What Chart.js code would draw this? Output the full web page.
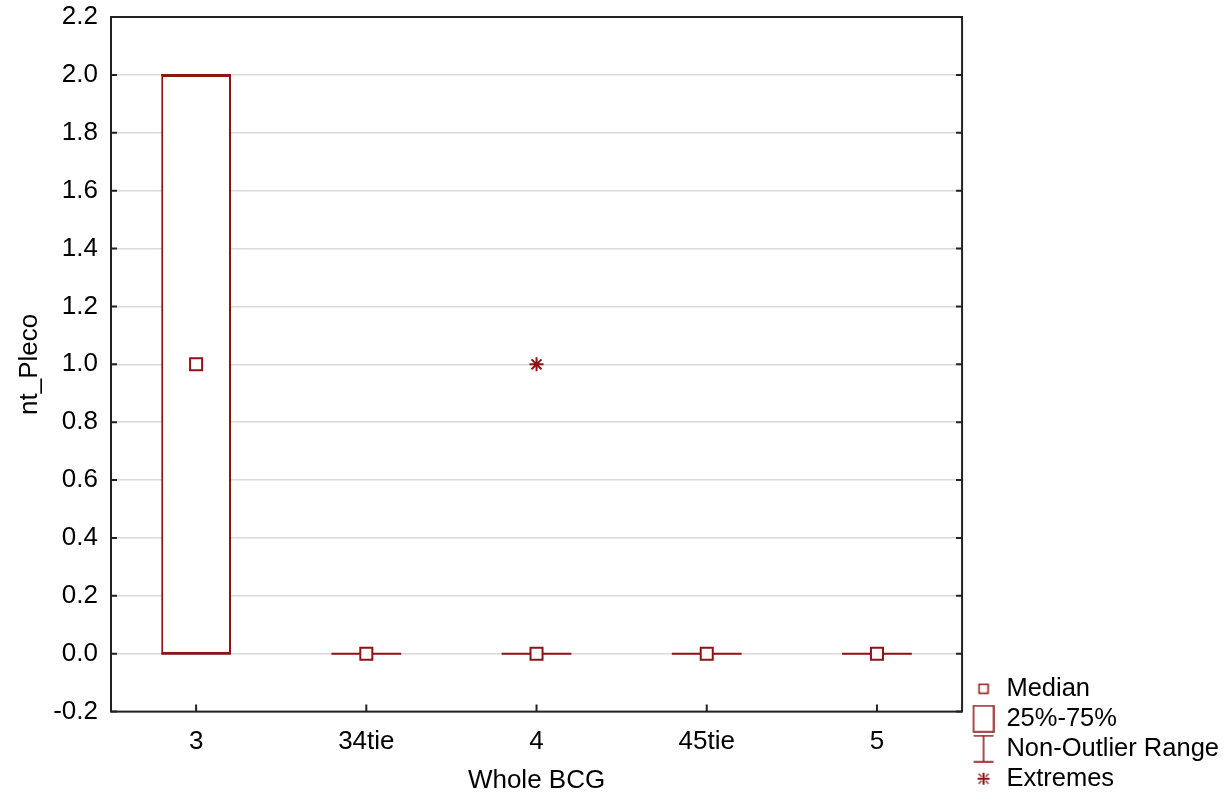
<!DOCTYPE html>
<html lang="en">

<head>
    <meta charset="UTF-8">
    <title>nt_Pleco by Whole BCG</title>
    <style>
        html, body { margin: 0; padding: 0; background: #fff; }
        #wrap { width: 1231px; height: 802px; }
    </style>
</head>

<body>
    <div id="wrap">
        <canvas id="boxChart"></canvas>
    </div>
    <script src="https://cdn.jsdelivr.net/npm/chart.js"></script>

    <script>
        // groups on the x axis
        var categories = ['3', '34tie', '4', '45tie', '5'];
        // box statistics per group
        var q1 = [0, 0, 0, 0, 0];
        var q3 = [2, 0, 0, 0, 0];
        var medians = [1, 0, 0, 0, 0];
        var rangeLow = [0, 0, 0, 0, 0];
        var rangeHigh = [2, 0, 0, 0, 0];
        var extremes = [null, null, 1, null, null];
        // y axis
        var yMin = -0.2;
        var yMax = 2.2;
        var yStep = 0.2;

        var maroon = '#8c1414';
        var fontFamily = "'Liberation Sans', Arial, Helvetica, sans-serif";

        // small canvases used as legend symbols (drawn a bit right of centre)
        var iconShift = 7;
        function makeIcon(w, h, draw) {
            var c = document.createElement('canvas');
            c.width = w + iconShift * 2;
            c.height = h;
            var g = c.getContext('2d');
            g.translate(iconShift * 2, 0);
            g.strokeStyle = maroon;
            g.lineWidth = 1.5;
            draw(g, w, h);
            return c;
        }
        var iconMedian = makeIcon(12, 12, function (g) {
            g.strokeRect(1.5, 1.5, 9, 9);
        });
        var iconBox = makeIcon(22, 28, function (g) {
            g.strokeRect(1, 1, 20, 26);
        });
        var iconRange = makeIcon(22, 28, function (g) {
            g.beginPath();
            g.moveTo(1, 1); g.lineTo(21, 1);
            g.moveTo(11, 1); g.lineTo(11, 27);
            g.moveTo(1, 27); g.lineTo(21, 27);
            g.stroke();
        });
        var iconExtreme = makeIcon(14, 14, function (g) {
            g.lineWidth = 2;
            g.beginPath();
            g.moveTo(7, 1); g.lineTo(7, 13);
            g.moveTo(1, 7); g.lineTo(13, 7);
            g.stroke();
            g.lineWidth = 1.2;
            g.beginPath();
            g.moveTo(2, 2); g.lineTo(5, 5);
            g.moveTo(12, 2); g.lineTo(9, 5);
            g.moveTo(2, 12); g.lineTo(5, 9);
            g.moveTo(12, 12); g.lineTo(9, 9);
            g.stroke();
        });

        // whiskers + caps, drawn from the box dataset's bar widths
        var whiskerPlugin = {
            id: 'whiskers',
            beforeDatasetsDraw: function (chart) {
                var ctx = chart.ctx;
                var xs = chart.scales.x;
                var ys = chart.scales.y;
                var boxMeta = chart.getDatasetMeta(2);
                ctx.save();
                ctx.strokeStyle = maroon;
                ctx.lineWidth = 2;
                categories.forEach(function (c, i) {
                    var x = xs.getPixelForValue(i);
                    var half = boxMeta.data[i].width / 2;
                    var yLo = ys.getPixelForValue(rangeLow[i]);
                    var yHi = ys.getPixelForValue(rangeHigh[i]);
                    var yQ1 = ys.getPixelForValue(q1[i]);
                    var yQ3 = ys.getPixelForValue(q3[i]);
                    ctx.beginPath();
                    ctx.moveTo(x, yLo); ctx.lineTo(x, yQ1);
                    ctx.moveTo(x, yQ3); ctx.lineTo(x, yHi);
                    ctx.moveTo(x - half, yLo); ctx.lineTo(x + half, yLo);
                    ctx.moveTo(x - half, yHi); ctx.lineTo(x + half, yHi);
                    ctx.stroke();
                });
                ctx.restore();
            }
        };

        // frame around the plot and the short inward tick marks
        var framePlugin = {
            id: 'frame',
            afterDraw: function (chart) {
                var ctx = chart.ctx;
                var a = chart.chartArea;
                var xs = chart.scales.x;
                var ys = chart.scales.y;
                ctx.save();
                ctx.strokeStyle = '#222';
                ctx.lineWidth = 2;
                ctx.strokeRect(a.left, a.top, a.right - a.left, a.bottom - a.top);
                ctx.beginPath();
                ys.ticks.forEach(function (t) {
                    var y = ys.getPixelForValue(t.value);
                    ctx.moveTo(a.left, y); ctx.lineTo(a.left + 6, y);
                    ctx.moveTo(a.right, y); ctx.lineTo(a.right - 6, y);
                });
                categories.forEach(function (c, i) {
                    var x = xs.getPixelForValue(i);
                    ctx.moveTo(x, a.bottom); ctx.lineTo(x, a.bottom - 7);
                });
                ctx.stroke();
                ctx.restore();
            }
        };

        var ctx01 = document.getElementById('boxChart');

        var boxChart = new Chart(ctx01, {
            type: 'bar',
            data: {
                labels: categories,
                datasets: [{
                    type: 'line',
                    label: 'Extremes',
                    data: extremes,
                    showLine: false,
                    pointStyle: 'star',
                    pointRadius: 7,
                    pointBorderWidth: 2,
                    pointBorderColor: maroon,
                    order: 0
                }, {
                    type: 'line',
                    label: 'Median',
                    data: medians,
                    showLine: false,
                    pointStyle: 'rect',
                    pointRadius: 8.5,
                    pointBorderWidth: 2,
                    pointBorderColor: maroon,
                    pointBackgroundColor: '#fff',
                    order: 1
                }, {
                    label: '25%-75%',
                    data: q1.map(function (v, i) { return [v, q3[i]]; }),
                    backgroundColor: '#fff',
                    borderColor: maroon,
                    borderWidth: 2,
                    borderSkipped: false,
                    barPercentage: 0.41,
                    categoryPercentage: 1,
                    order: 2
                }]
            },
            options: {
                responsive: true,
                maintainAspectRatio: false,
                animation: false,
                layout: {
                    padding: { top: 17, right: 2, left: 6, bottom: 6 }
                },
                plugins: {
                    tooltip: { enabled: false },
                    legend: {
                        position: 'right',
                        align: 'end',
                        onClick: null,
                        labels: {
                            usePointStyle: true,
                            boxWidth: 20,
                            padding: 4.5,
                            color: '#000',
                            font: { family: fontFamily, size: 25.5 },
                            generateLabels: function () {
                                return [
                                    { text: ' Median', pointStyle: iconMedian, hidden: false, lineWidth: 0 },
                                    { text: ' 25%-75%', pointStyle: iconBox, hidden: false, lineWidth: 0 },
                                    { text: ' Non-Outlier Range', pointStyle: iconRange, hidden: false, lineWidth: 0 },
                                    { text: ' Extremes', pointStyle: iconExtreme, hidden: false, lineWidth: 0 }
                                ];
                            }
                        }
                    }
                },
                scales: {
                    x: {
                        grid: { display: false, drawTicks: false },
                        border: { display: false },
                        ticks: {
                            color: '#000',
                            padding: 15,
                            font: { family: fontFamily, size: 26 }
                        },
                        title: {
                            display: true,
                            text: 'Whole BCG',
                            color: '#000',
                            padding: { top: -8, bottom: 0 },
                            font: { family: fontFamily, size: 26 }
                        }
                    },
                    y: {
                        min: yMin,
                        max: yMax,
                        grid: {
                            color: '#dadada',
                            lineWidth: 1.5,
                            drawTicks: false
                        },
                        border: { display: false },
                        ticks: {
                            stepSize: yStep,
                            color: '#000',
                            padding: 13,
                            font: { family: fontFamily, size: 26, lineHeight: 0.2 },
                            callback: function (v) { return Number(v).toFixed(1); }
                        },
                        title: {
                            display: true,
                            text: 'nt_Pleco',
                            color: '#000',
                            padding: { top: 8, bottom: -5 },
                            font: { family: fontFamily, size: 26 }
                        }
                    }
                }
            },
            plugins: [whiskerPlugin, framePlugin]
        });
    </script>
</body>

</html>
